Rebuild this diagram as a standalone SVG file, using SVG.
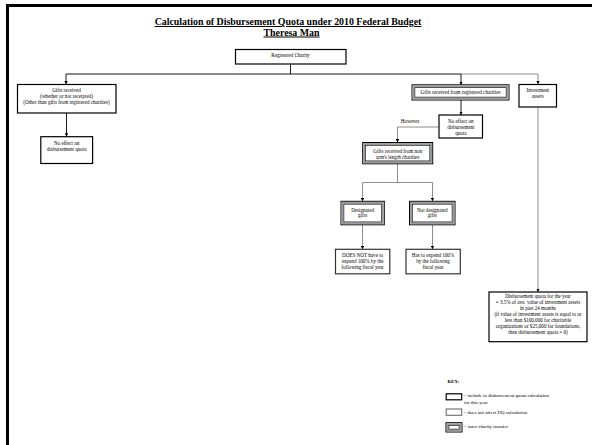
<svg xmlns="http://www.w3.org/2000/svg" width="592" height="445" viewBox="0 0 592 445">
<defs>
<style>
.t{font-family:"Liberation Serif","Times New Roman",serif;font-size:5.1px;fill:#000;text-anchor:middle}
.tl{font-family:"Liberation Serif","Times New Roman",serif;font-size:4.9px;fill:#000}
.h{font-family:"Liberation Serif","Times New Roman",serif;font-size:9.9px;font-weight:bold;fill:#000;text-anchor:middle;text-decoration:underline}
.b{fill:#fff;stroke:#000;stroke-width:1.2}
.bg{fill:#fff;stroke:#333;stroke-width:1.2}
.d1{fill:#fff;stroke:#000;stroke-width:1}
.d2{fill:none;stroke:#999;stroke-width:2}
.d3{fill:none;stroke:#000;stroke-width:0.6}
.c{fill:none;stroke:#000;stroke-width:0.9}
.cg{fill:none;stroke:#808080;stroke-width:0.9}
.a{marker-end:url(#arr)}
</style>
<marker id="arr" viewBox="0 0 10 10" refX="10" refY="5" markerWidth="3.4" markerHeight="3.4" markerUnits="userSpaceOnUse" orient="auto">
<path d="M0,0 L10,5 L0,10 z" fill="#000"/>
</marker>
</defs>
<rect width="592" height="445" fill="#fff"/>
<path d="M7.5 445 V5.5 H592" fill="none" stroke="#000" stroke-width="3"/>

<g id="title">
<text class="h" x="288" y="25">Calculation of Disbursement Quota under 2010 Federal Budget</text>
<text class="h" x="291.5" y="35.5">Theresa Man</text>
</g>

<g id="connectors">
<path class="c" d="M290.5 64 V74"/>
<path class="c" d="M66 74 H461"/>
<path class="cg" d="M461 74 H538"/>
<path class="c a" d="M66 74 V84.3"/>
<path class="c a" d="M461 74 V85"/>
<path class="cg a" d="M538 74 V84.3"/>
<path class="c a" d="M66.5 113 V136.7"/>
<path class="c a" d="M461 100 V115"/>
<path class="cg a" d="M439 127 H397.5 V142.5"/>
<path class="cg" d="M397.5 164 V182.5"/>
<path class="cg" d="M362.5 182.5 H432.5"/>
<path class="cg a" d="M362.5 182.5 V201.3"/>
<path class="cg a" d="M432.5 182.5 V201.3"/>
<path class="cg a" d="M362.5 225 V249.3"/>
<path class="cg a" d="M432.5 225 V249.3"/>
<path class="cg a" d="M538 107 V292"/>
</g>

<g id="registered-charity">
<rect class="b" x="235.5" y="49.5" width="110.5" height="14.5"/>
<text class="t" x="290.5" y="57">Registered Charity</text>
</g>

<g id="gifts-received">
<rect class="b" x="17.5" y="84.5" width="98.5" height="28.5"/>
<text class="t" x="66.5" y="92.4">Gifts received</text>
<text class="t" x="66.5" y="98.4">(whether or not receipted)</text>
<text class="t" x="66.5" y="104.2">(Other than gifts from registered charities)</text>
</g>

<g id="no-effect-left">
<rect class="b" x="40.8" y="136.7" width="51.8" height="26.8"/>
<text class="t" x="66.7" y="144.6">No effect on</text>
<text class="t" x="66.7" y="151.4">disbursement quota</text>
</g>

<g id="gifts-registered">
<rect class="d1" x="412" y="84.8" width="97" height="15.2"/>
<rect class="d2" x="413.6" y="86.4" width="93.8" height="12"/>
<rect class="d3" x="414.9" y="87.7" width="91.2" height="9.4"/>
<text class="t" x="460.5" y="94.2">Gifts received from registered charities</text>
</g>

<g id="investment-assets">
<rect class="b" x="519" y="84.5" width="37.5" height="22.5"/>
<text class="t" x="537.8" y="92.4">Investment</text>
<text class="t" x="537.8" y="98.4">assets</text>
</g>

<g id="no-effect-mid">
<rect class="b" x="439" y="115" width="43.5" height="23"/>
<text class="t" x="460.8" y="122.9">No effect on</text>
<text class="t" x="460.8" y="128.9">disbursement</text>
<text class="t" x="460.8" y="134.7">quota</text>
</g>

<g id="however-label">
<text class="t" x="410" y="123.3">However</text>
</g>

<g id="gifts-non-arms">
<rect class="d1" x="362.7" y="142.5" width="70" height="21.3"/>
<rect class="d2" x="364.3" y="144.1" width="66.8" height="18.1"/>
<rect class="d3" x="365.6" y="145.4" width="64.2" height="15.5"/>
<text class="t" x="397.7" y="152.7">Gifts received from non</text>
<text class="t" x="397.7" y="158.7">arm's length charities</text>
</g>

<g id="designated">
<rect class="d1" x="341" y="201.3" width="43.3" height="23.5"/>
<rect class="d2" x="342.6" y="202.9" width="40.1" height="20.3"/>
<rect class="d3" x="343.9" y="204.2" width="37.5" height="17.7"/>
<text class="t" x="362.6" y="211.6">Designated</text>
<text class="t" x="362.6" y="217.1">gifts</text>
</g>

<g id="not-designated">
<rect class="d1" x="409.5" y="201.3" width="45.5" height="23.5"/>
<rect class="d2" x="411.1" y="202.9" width="42.3" height="20.3"/>
<rect class="d3" x="412.4" y="204.2" width="39.7" height="17.7"/>
<text class="t" x="432.3" y="211.6">Not designated</text>
<text class="t" x="432.3" y="217.1">gifts</text>
</g>

<g id="does-not-expend">
<rect class="bg" x="335.5" y="249.3" width="54.3" height="24.5"/>
<text class="t" x="362.6" y="257.1">DOES NOT have to</text>
<text class="t" x="362.6" y="263.1">expend 100% by the</text>
<text class="t" x="362.6" y="269.1">following fiscal year</text>
</g>

<g id="has-to-expend">
<rect class="bg" x="406" y="249.3" width="54.3" height="24.5"/>
<text class="t" x="433" y="257.1">Has to expend 100%</text>
<text class="t" x="433" y="263.1">by the following</text>
<text class="t" x="433" y="269.1">fiscal year</text>
</g>

<g id="disbursement-quota">
<rect class="b" x="489" y="292" width="98" height="49.7"/>
<text class="t" x="538" y="298.4">Disbursement quota for the year</text>
<text class="t" x="538" y="304.4">= 3.5% of ave. value of investment assets</text>
<text class="t" x="538" y="310.4">in past 24 months</text>
<text class="t" x="538" y="316.4">(if value of investment assets is equal to or</text>
<text class="t" x="538" y="322.4">less than $100,000 for charitable</text>
<text class="t" x="538" y="328.4">organizations or $25,000 for foundations,</text>
<text class="t" x="538" y="334.4">then disbursement quota = 0)</text>
</g>

<g id="key">
<text class="tl" x="447.5" y="382.7" font-weight="bold">KEY:</text>
<rect class="b" x="446.2" y="393.8" width="15.5" height="6"/>
<text class="tl" x="463.5" y="397.4">= include in disbursement quota calculation</text>
<text class="tl" x="464" y="403.6">for this year</text>
<rect fill="#fff" stroke="#777" stroke-width="1.2" x="446.2" y="409" width="15.5" height="6.3"/>
<text class="tl" x="463.5" y="413.7">= does not affect DQ calculation</text>
<rect class="d1" x="446" y="422.7" width="16" height="9.3"/>
<rect class="d2" x="447.6" y="424.3" width="12.8" height="6.1"/>
<rect class="d3" x="448.9" y="425.6" width="10.2" height="3.5"/>
<text class="tl" x="464" y="428.1">= inter-charity transfer</text>
</g>
</svg>
